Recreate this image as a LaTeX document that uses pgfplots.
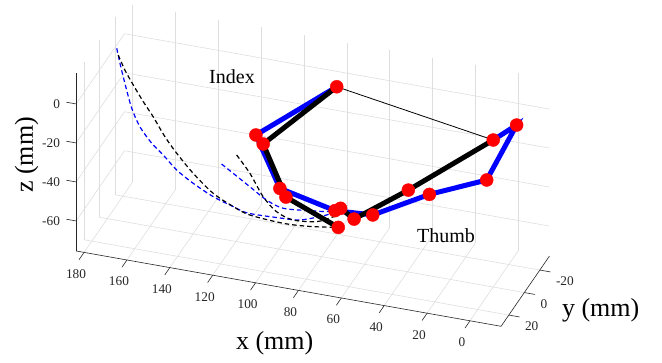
\documentclass[border=0pt]{standalone}
\usepackage{pgfplots}
\pgfplotsset{compat=1.18}
\usepackage{fontspec}
\setmainfont{Liberation Serif}
\definecolor{axgray}{gray}{0.15}
\begin{document}
\begin{tikzpicture}
\path[use as bounding box] (-493.25pt,-222pt) rectangle (168.75pt,140pt);
\begin{axis}[
  anchor=origin, at={(0pt,0pt)},
  x={(-2.144pt,0.38pt)}, y={(-0.775pt,-1.125pt)}, z={(0pt,1.95pt)},
  xmin=-14.5, xmax=183.7, ymin=-32.4, ymax=30, zmin=-75.4, zmax=15.7,
  xtick={0,20,...,180}, ytick={-20,0,20}, ztick={-60,-40,-20,0},
  xticklabels={}, yticklabels={}, zticklabels={},
  grid=major, major grid style={black!13, line width=0.6pt},
  major tick length=0pt,
  axis line style={draw=none},
  clip=false,
]
% axis lines and ticks (MATLAB style)
\draw[axgray, line width=0.6pt] (axis cs:183.7,30,-75.4) -- (axis cs:-14.5,30,-75.4) -- (axis cs:-14.5,-32.4,-75.4);
\draw[axgray, line width=0.6pt] (axis cs:183.7,30,-75.4) -- (axis cs:183.7,30,15.7);
\pgfplotsinvokeforeach{0,20,40,60,80,100,120,140,160,180}{
  \draw[axgray, line width=0.6pt] (axis cs:#1,30,-75.4) -- (axis cs:#1,36.5,-75.4);
  \node[axgray, font=\fontsize{13.3}{15}\selectfont, inner sep=0pt] at (axis cs:#1,30,-75.4) [xshift=-8pt, yshift=-21.6pt] {#1};
}
\pgfplotsinvokeforeach{-20,0,20}{
  \draw[axgray, line width=0.6pt] (axis cs:-14.5,#1,-75.4) -- (axis cs:-19.5,#1,-75.4);
  \node[axgray, font=\fontsize{13.3}{15}\selectfont, inner sep=0pt, anchor=west] at (axis cs:-14.5,#1,-75.4) [xshift=16pt, yshift=-11.5pt] {#1};
}
\pgfplotsinvokeforeach{-60,-40,-20,0}{
  \draw[axgray, line width=0.6pt] (axis cs:183.7,30,#1) -- (axis cs:188.2,30,#1);
  \node[axgray, font=\fontsize{13.3}{15}\selectfont, inner sep=0pt, anchor=east] at (axis cs:183.7,30,#1) [xshift=-16pt] {#1};
}
% fingertip trajectories
\addplot3[blue, line width=1.2pt, dash pattern=on 4.5pt off 3pt, smooth] coordinates {
(175.6,0,12.8) (174.1,0,5.4) (171.8,0,-4.4) (168.6,0,-16.6) (164.8,0,-25.3)
(159.3,0,-32.7) (153.9,0,-37.7) (147.6,0,-44.2) (139.9,0,-49.5) (130.6,0,-54.5)
(121.2,0,-57.8) (114.2,0,-59.8) (98.1,0,-59.3) (90.1,0,-58.6) (77.7,0,-53.6) (73.8,0,-50.6)};
\addplot3[black, line width=1.2pt, dash pattern=on 4.5pt off 3pt, smooth] coordinates {
(174.9,0,9.5) (171.8,0,2.4) (167.9,0,-4.5) (163.2,0,-12.2) (158.6,0,-19.0)
(153.1,0,-28.2) (147.6,0,-35.6) (139.9,0,-44.4) (130.6,0,-52.8) (121.2,0,-57.8)
(113.5,0,-60.6) (97.9,0,-61.8) (85.5,0,-61.0) (72.3,0,-58.9)};
\addplot3[blue, line width=1.2pt, dash pattern=on 4.5pt off 3pt, smooth] coordinates {
(126.7,0,-37.0) (113.5,0,-46.1) (105.7,0,-51.4) (97.9,0,-54.1) (85.5,0,-52.9)
(76.9,0,-51.7) (72.4,0,-50.0)};
\addplot3[black, line width=1.2pt, dash pattern=on 4.5pt off 3pt, smooth] coordinates {
(119.7,0,-31.0) (113.5,0,-39.2) (107.3,0,-50.0) (101.0,0,-56.5) (93.3,0,-59.2)
(82.3,0,-57.9) (75.3,0,-54.3) (73.3,0,-53.3)};
% blue pose
\addplot3[blue, line width=5pt] coordinates {
(80.3,-20.2,0) (110.7,0,-19.0) (99.5,0,-44.2) (73.8,0,-50.6)};
\addplot3[blue, line width=5pt] coordinates {
(0,0,0) (-10.9,0,9.8) (3.05,0,-21.1) (29.8,0,-33.7) (56.2,0,-49.4) (73.8,0,-50.6)};
% black pose
\addplot3[black, line width=5pt] coordinates {
(80.3,-20.2,0) (107.3,0,-22.95) (96.7,0,-48.1) (72.3,0,-58.9)};
\addplot3[black, line width=5pt] coordinates {
(0,0,0) (39.6,0,-33.4) (64.9,0,-53.2) (71.2,0,-48.9)};
% link
\addplot3[black, line width=0.8pt] coordinates {(80.3,-20.2,0) (0,0,0)};
% joints
\addplot3[only marks, mark=*, mark size=6.5pt, red, mark options={draw=red, fill=red}] coordinates {
(80.3,-20.2,0) (110.7,0,-19.0) (107.3,0,-22.95) (99.5,0,-44.2) (96.7,0,-48.1)
(73.8,0,-50.6) (71.2,0,-48.9) (72.3,0,-58.9) (64.9,0,-53.2) (56.2,0,-49.4)
(39.6,0,-33.4) (29.8,0,-33.7) (0,0,0) (-10.9,0,9.8) (3.05,0,-21.1)};
\end{axis}
\node[font=\fontsize{20}{22}\selectfont] at (-261.25pt,63pt) {Index};
\node[font=\fontsize{20}{22}\selectfont] at (-47.25pt,-96pt) {Thumb};
\node[font=\fontsize{26}{28}\selectfont] at (-218.55pt,-203.3pt) {x (mm)};
\node[font=\fontsize{26}{28}\selectfont] at (107.45pt,-170pt) {y (mm)};
\node[font=\fontsize{26}{28}\selectfont, rotate=90] at (-466.55pt,-15pt) {z (mm)};
\end{tikzpicture}
\end{document}
